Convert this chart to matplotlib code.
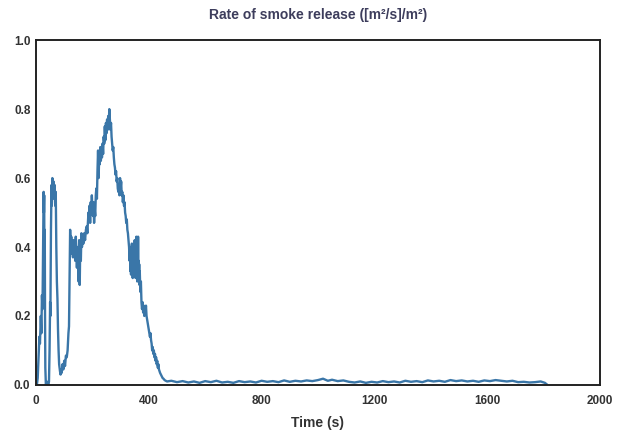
import matplotlib
matplotlib.use("Agg")
import matplotlib.pyplot as plt

plt.rcParams['font.family'] = ['Liberation Sans', 'DejaVu Sans']

# Time (s) and rate of smoke release ([m2/s]/m2)
time_early = [0, 3, 6, 9, 12, 14, 17, 19, 21, 23, 25, 27, 28, 29, 30, 31, 32, 33, 35, 38,
              41, 44, 46, 48, 50, 51, 53, 55, 56, 58, 60, 62, 64, 66, 68, 70, 72, 74, 76, 78,
              80, 82, 85, 87, 89, 91, 94, 97, 100, 103, 106, 109, 112, 115, 117, 119, 121, 123, 125, 127,
              129, 131, 133, 135, 137, 139, 141, 143, 145, 147, 149, 151, 153, 155, 157, 159, 161, 163, 165, 168,
              171, 174, 177, 180, 182, 184, 186, 188, 190, 192, 194, 196, 198, 200, 202, 204, 206, 208, 210, 212,
              214, 216, 218, 220, 222, 224, 226, 228, 230, 232, 234, 236, 238, 240, 242, 244, 246, 248, 250, 252,
              254, 256, 258, 260, 262, 264, 266, 268, 270, 272, 274, 276, 278, 280, 282, 284, 286, 288, 290, 292,
              294, 296, 298, 300, 302, 304, 306, 308, 310, 312, 314, 316, 318, 320, 322, 324, 326, 328, 330, 332,
              334, 335, 336, 337, 338, 339, 340, 341, 342, 343, 344, 345, 346, 347, 348, 349, 350, 351, 352, 353,
              354, 355, 356, 357, 358, 359, 360, 361, 362, 363, 364, 365, 366, 367, 368, 370, 372, 374, 376, 378,
              380, 382, 384, 386, 388, 390, 392, 394, 396, 398, 400, 402, 404, 406, 408, 410, 412, 414, 416, 418,
              420, 422, 424, 426, 428, 430, 432, 434, 436, 438, 440, 443, 446, 449, 452, 456, 460, 465]
rate_early = [0.0, 0.0, 0.02, 0.08, 0.14, 0.12, 0.20, 0.15, 0.26, 0.22, 0.40, 0.56, 0.50, 0.55, 0.30, 0.45, 0.20, 0.05, 0.0, 0.01,
              0.0, 0.0, 0.01, 0.10, 0.24, 0.20, 0.45, 0.58, 0.52, 0.60, 0.55, 0.59, 0.54, 0.58, 0.52, 0.56, 0.40, 0.30, 0.25, 0.16,
              0.10, 0.06, 0.04, 0.03, 0.045, 0.035, 0.06, 0.045, 0.07, 0.055, 0.085, 0.08, 0.10, 0.15, 0.17, 0.30, 0.45, 0.40, 0.43, 0.38,
              0.41, 0.37, 0.42, 0.38, 0.40, 0.36, 0.43, 0.39, 0.34, 0.40, 0.37, 0.30, 0.42, 0.29, 0.41, 0.36, 0.44, 0.40, 0.43, 0.41,
              0.44, 0.42, 0.45, 0.46, 0.44, 0.47, 0.50, 0.48, 0.52, 0.47, 0.53, 0.50, 0.55, 0.51, 0.49, 0.53, 0.47, 0.51, 0.49, 0.55,
              0.57, 0.54, 0.62, 0.68, 0.60, 0.66, 0.64, 0.69, 0.65, 0.68, 0.66, 0.70, 0.67, 0.72, 0.70, 0.75, 0.71, 0.76, 0.73, 0.77,
              0.74, 0.78, 0.76, 0.80, 0.77, 0.74, 0.76, 0.72, 0.70, 0.68, 0.69, 0.66, 0.64, 0.63, 0.61, 0.62, 0.59, 0.60, 0.57, 0.56,
              0.58, 0.55, 0.60, 0.57, 0.59, 0.55, 0.56, 0.53, 0.55, 0.52, 0.53, 0.50, 0.49, 0.47, 0.48, 0.45, 0.44, 0.42, 0.40, 0.36,
              0.40, 0.33, 0.38, 0.32, 0.39, 0.34, 0.41, 0.33, 0.38, 0.31, 0.39, 0.34, 0.40, 0.32, 0.37, 0.33, 0.42, 0.34, 0.38, 0.31,
              0.39, 0.33, 0.43, 0.35, 0.38, 0.30, 0.37, 0.32, 0.43, 0.34, 0.36, 0.30, 0.35, 0.29, 0.33, 0.27, 0.30, 0.24, 0.22, 0.24,
              0.21, 0.23, 0.20, 0.22, 0.21, 0.23, 0.20, 0.19, 0.18, 0.17, 0.16, 0.15, 0.14, 0.15, 0.13, 0.12, 0.10, 0.11, 0.09, 0.10,
              0.08, 0.09, 0.07, 0.08, 0.06, 0.07, 0.05, 0.06, 0.045, 0.04, 0.035, 0.03, 0.025, 0.02, 0.018, 0.014, 0.012, 0.010]

time_late = [480, 500, 520, 540, 560, 580, 600, 620, 640, 660, 680, 700, 720, 740, 760, 780, 800, 820, 840, 860,
             880, 900, 920, 940, 960, 980, 1000, 1018, 1035, 1050, 1070, 1090, 1110, 1130, 1150, 1170, 1190, 1210, 1230, 1250,
             1270, 1290, 1310, 1330, 1350, 1370, 1390, 1410, 1430, 1450, 1470, 1490, 1510, 1530, 1550, 1570, 1590, 1610, 1630, 1650,
             1670, 1690, 1710, 1730, 1750, 1770, 1790, 1805, 1811]
rate_late = [0.012, 0.008, 0.011, 0.007, 0.010, 0.006, 0.011, 0.008, 0.012, 0.007, 0.009, 0.006, 0.011, 0.008, 0.010, 0.007, 0.012, 0.009, 0.011, 0.008,
             0.013, 0.009, 0.012, 0.010, 0.013, 0.011, 0.014, 0.018, 0.012, 0.015, 0.011, 0.013, 0.009, 0.007, 0.010, 0.006, 0.009, 0.007, 0.011, 0.008,
             0.010, 0.007, 0.012, 0.009, 0.011, 0.008, 0.013, 0.010, 0.012, 0.009, 0.014, 0.011, 0.013, 0.010, 0.012, 0.009, 0.013, 0.011, 0.014, 0.012,
             0.010, 0.012, 0.008, 0.009, 0.007, 0.008, 0.010, 0.006, 0.002]

time_s = time_early + time_late
rate = rate_early + rate_late

x_ticks = [0, 400, 800, 1200, 1600, 2000]
y_ticks = [0.0, 0.2, 0.4, 0.6, 0.8, 1.0]

fig = plt.figure(figsize=(6.21, 4.32), dpi=100)
ax = fig.add_axes([0.058, 0.109, 0.908, 0.798])
ax.plot(time_s, rate, color="#3a76a8", linewidth=1.7)

ax.set_xlim(0, 2000)
ax.set_ylim(0, 1.0)
ax.set_xticks(x_ticks)
ax.set_yticks(y_ticks)
ax.set_xticklabels([str(v) for v in x_ticks])
ax.set_yticklabels([f"{v:.1f}" for v in y_ticks])
ax.tick_params(length=0, labelsize=8.5, colors="#333333")
ax.tick_params(axis="x", pad=7)
ax.tick_params(axis="y", pad=4)
for lab in ax.get_xticklabels() + ax.get_yticklabels():
    lab.set_fontweight("bold")
for sp in ax.spines.values():
    sp.set_linewidth(1.4)
    sp.set_color("#222222")

ax.set_title("Rate of smoke release ([m²/s]/m²)", fontsize=10, fontweight="bold",
             color="#3d3d5c", pad=15)
ax.set_xlabel("Time (s)", fontsize=10, fontweight="bold", color="#333333", labelpad=7)

fig.savefig("out.png", dpi=100)
